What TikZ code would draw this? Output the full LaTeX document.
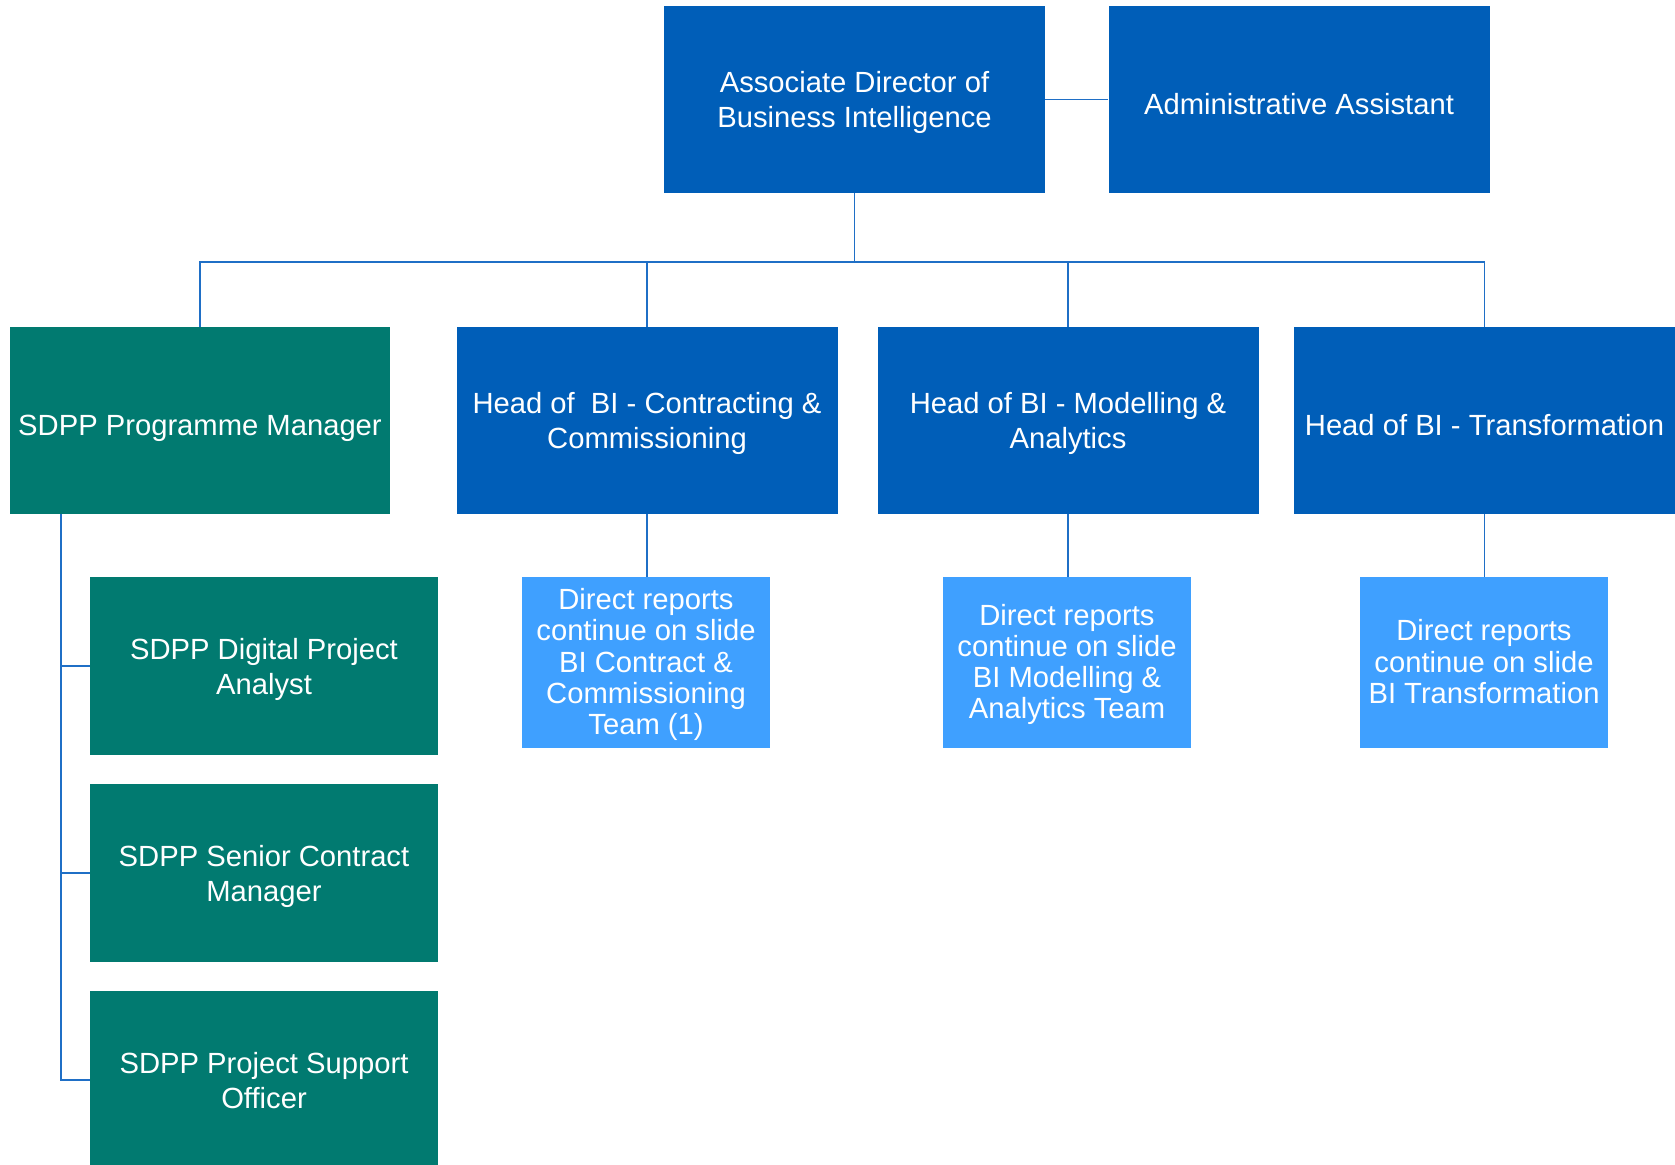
\documentclass[tikz,border=0pt]{standalone}
\usepackage{fontspec}
\setmainfont{Liberation Sans}
\definecolor{nhsblue}{HTML}{005EB8}
\definecolor{nhsgreen}{HTML}{017A70}
\definecolor{lightblue}{HTML}{3FA0FF}
\definecolor{linkblue}{HTML}{1F6FC6}

\begin{document}
\begin{tikzpicture}[x=0.5pt, y=-0.5pt,
    box/.style={inner sep=0pt, align=center, text=white,
        font=\fontsize{14.6}{17.5}\selectfont, text depth=-1pt,
        execute at begin node={\rule{0pt}{14.6pt}}},
    bluebox/.style={box, fill=nhsblue, minimum width=190.5pt, minimum height=93.5pt},
    greenbox/.style={box, fill=nhsgreen, minimum width=174pt, minimum height=89pt},
    drbox/.style={inner sep=0pt, align=center, text=white, fill=lightblue,
        minimum width=124pt, minimum height=85.5pt, text depth=1pt,
        font=\fontsize{14.6}{15.6}\selectfont},
    link/.style={linkblue, line width=0.7pt}]
            \useasboundingbox (0,0) rectangle (1675,1165);
            \clip (0,0) rectangle (1675,1165);
            \node[bluebox] (dir) at (854.5,99.5) {Associate Director of\\Business Intelligence};
            \node[bluebox] (admin) at (1299,99.5) {Administrative Assistant};
            \node[greenbox, minimum width=190pt, minimum height=93.5pt] (pm) at (200,420.5) {SDPP Programme Manager};
            \node[bluebox] (hC) at (647,420.5) {Head of\ \ BI - Contracting \&\\Commissioning};
            \node[bluebox] (hM) at (1068,420.5) {Head of BI - Modelling \&\\Analytics};
            \node[bluebox] (hT) at (1484.5,420.5) {Head of BI - Transformation};
            \node[drbox] (drC) at (646,662.5) {Direct reports\\continue on slide\\BI Contract \&\\Commissioning\\Team (1)};
            \node[drbox] (drM) at (1067,662.5) {Direct reports\\continue on slide\\BI Modelling \&\\Analytics Team};
            \node[drbox] (drT) at (1484,662.5) {Direct reports\\continue on slide\\BI Transformation};
            \node[greenbox] (sA) at (264,666) {SDPP Digital Project\\Analyst};
            \node[greenbox] (sB) at (264,873) {SDPP Senior Contract\\Manager};
            \node[greenbox] (sC) at (264,1080) {SDPP Project Support\\Officer};
            \coordinate (bus) at (854.5,262);
            \coordinate (spine) at (61,514);
            \draw[link] (dir.east) -- (admin.west);
            \draw[link] (dir.south) -- (bus);
            \draw[link] (pm.north) |- (bus) -| (hT.north);
            \draw[link] (hC.north) -- (hC.north |- bus);
            \draw[link] (hM.north) -- (hM.north |- bus);
            \draw[link] (hC.south) -- (drC.north -| hC.south);
            \draw[link] (hM.south) -- (drM.north -| hM.south);
            \draw[link] (hT.south) -- (drT.north -| hT.south);
            \draw[link] (spine) |- (sA.west);
            \draw[link] (spine) |- (sB.west);
            \draw[link] (spine) |- (sC.west);
        \end{tikzpicture}
\end{document}
